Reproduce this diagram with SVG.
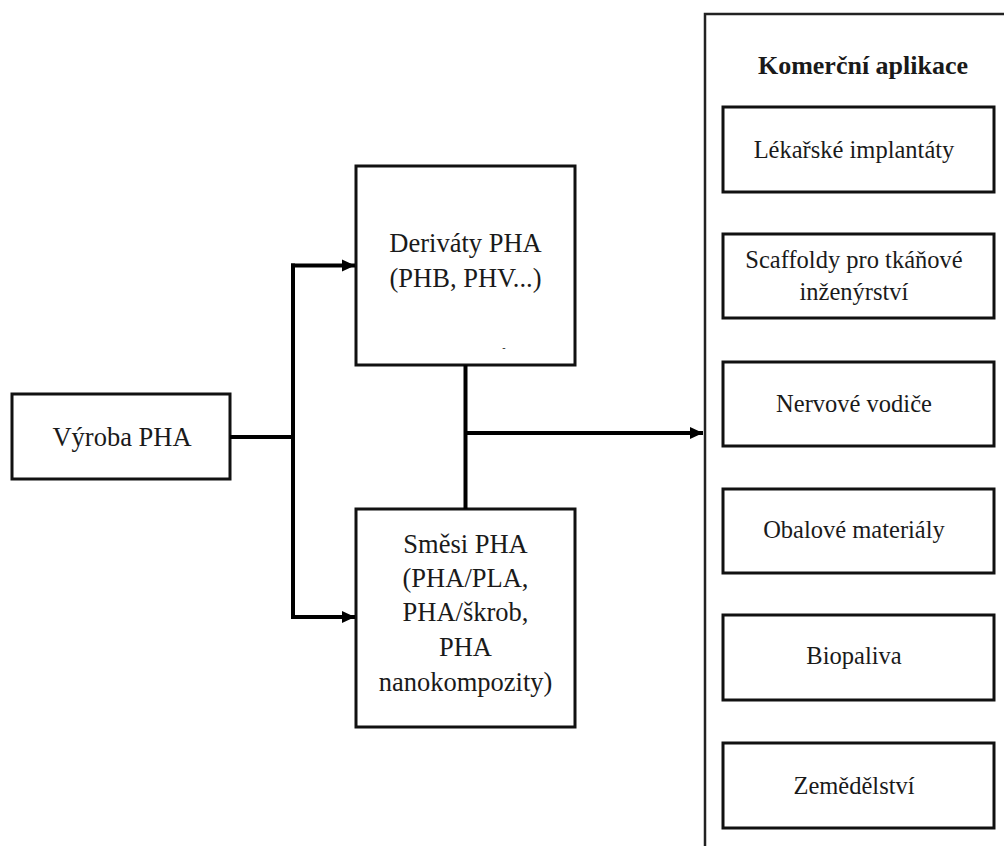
<svg xmlns="http://www.w3.org/2000/svg" width="1004" height="846" viewBox="0 0 1004 846">
<style>
.box{fill:#fff;stroke:#111;stroke-width:3}
.t{font-family:"Liberation Serif","Times New Roman",serif;fill:#1a1a1a;text-anchor:middle}
.l{font-size:26.5px}
.a{font-size:24.5px}
.h{font-size:26px;font-weight:bold}
.c{fill:none;stroke:#000;stroke-width:4}
</style>
<defs>
<marker id="ah" markerUnits="userSpaceOnUse" markerWidth="14" markerHeight="14" refX="13" refY="7" orient="auto">
<path d="M0,1 L13,7 L0,13 Z" fill="#000"/>
</marker>
</defs>
<rect width="1004" height="846" fill="#fff"/>

<g id="container">
<path d="M705,846 V14 H1004" fill="none" stroke="#222" stroke-width="2.5"/>
<text class="t h" x="863" y="74">Komerční aplikace</text>
</g>

<g id="vyroba">
<rect class="box" x="12" y="394" width="218" height="85"/>
<text class="t l" x="122" y="446">Výroba PHA</text>
</g>

<g id="derivaty">
<rect class="box" x="356" y="166" width="219" height="199"/>
<text class="t l" x="465.5" y="252">Deriváty PHA</text>
<text class="t l" x="465.5" y="287">(PHB, PHV...)</text>
<text class="t" x="504" y="351" style="font-size:10px">-</text>
</g>

<g id="smesi">
<rect class="box" x="356" y="509" width="219" height="218"/>
<text class="t l" x="465.5" y="553">Směsi PHA</text>
<text class="t l" x="465.5" y="587">(PHA/PLA,</text>
<text class="t l" x="465.5" y="621">PHA/škrob,</text>
<text class="t l" x="465.5" y="656">PHA</text>
<text class="t l" x="465.5" y="691">nanokompozity)</text>
</g>

<g id="app1">
<rect class="box" x="723" y="107" width="271" height="85"/>
<text class="t a" x="854" y="158">Lékařské implantáty</text>
</g>
<g id="app2">
<rect class="box" x="723" y="234" width="271" height="84"/>
<text class="t a" x="854" y="268">Scaffoldy pro tkáňové</text>
<text class="t a" x="854" y="300">inženýrství</text>
</g>
<g id="app3">
<rect class="box" x="723" y="362" width="271" height="84"/>
<text class="t a" x="854" y="412">Nervové vodiče</text>
</g>
<g id="app4">
<rect class="box" x="723" y="489" width="271" height="84"/>
<text class="t a" x="854" y="538">Obalové materiály</text>
</g>
<g id="app5">
<rect class="box" x="723" y="615" width="271" height="85"/>
<text class="t a" x="854" y="664">Biopaliva</text>
</g>
<g id="app6">
<rect class="box" x="723" y="743" width="271" height="85"/>
<text class="t a" x="854" y="794">Zemědělství</text>
</g>

<g id="connectors">
<path class="c" d="M230,437 H293"/>
<path class="c" d="M293,263.5 V619"/>
<path class="c" d="M291,265.5 H355" marker-end="url(#ah)"/>
<path class="c" d="M291,617 H355" marker-end="url(#ah)"/>
<path class="c" d="M465.5,365 V509"/>
<path class="c" d="M465.5,433 H703" marker-end="url(#ah)"/>
</g>
</svg>
